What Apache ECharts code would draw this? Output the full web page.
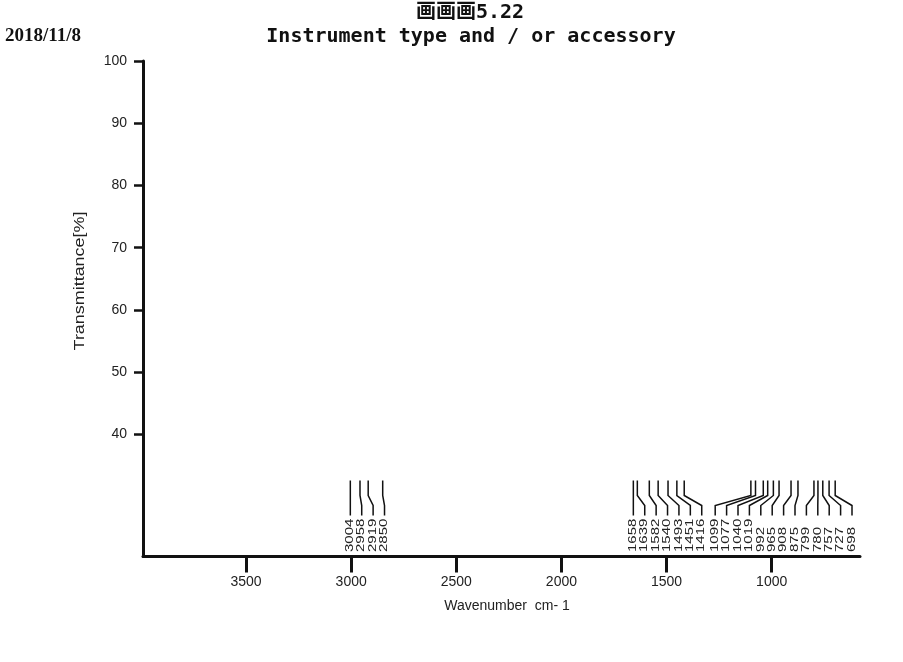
<!DOCTYPE html>
<html>
<head>
<meta charset="utf-8">
<script src="https://cdn.jsdelivr.net/npm/echarts@6/dist/echarts.min.js"></script>
<style>
html,body{margin:0;padding:0;background:#fff;}
#chart{width:903px;height:662px;}
</style>
</head>
<body>
<div id="chart"></div>
<script>
// ---- data ----
const peaks = [3004, 2958, 2919, 2850, 1658, 1639, 1582, 1540, 1493, 1451, 1416,
               1099, 1077, 1040, 1019, 992, 965, 908, 875, 799, 780, 757, 727, 698];
const xTicks = [3500, 3000, 2500, 2000, 1500, 1000];
const yTicks = [40, 50, 60, 70, 80, 90, 100];
const xMin = 580, xMax = 3990;
const yMin = 20.4, yMax = 100;
const titleLine1 = '画画画5.22';
const titleLine2 = 'Instrument type and / or accessory';
const dateText = '2018/11/8';
const xName = 'Wavenumber  cm- 1';
const yName = 'Transmittance[%]';

const chart = echarts.init(document.getElementById('chart'), null, {renderer: 'canvas'});
const LABEL_GAP = 11.4;
const RIGHT_PAD = 8;

function layoutLabels(api) {
  const px = peaks.map(p => api.coord([p, yMin])[0]);
  const rightLimit = api.coord([xMin, yMin])[0] - RIGHT_PAD;
  const order = px.map((v, k) => k).sort((a, b) => px[a] - px[b]);
  const lx = new Array(px.length);
  let prev = -Infinity;
  order.forEach(k => { const v = Math.max(px[k], prev + LABEL_GAP); lx[k] = v; prev = v; });
  let next = rightLimit + LABEL_GAP;
  for (let j = order.length - 1; j >= 0; j--) {
    const k = order[j];
    lx[k] = Math.min(lx[k], next - LABEL_GAP);
    next = lx[k];
  }
  return {px, lx};
}

function renderPeak(params, api) {
  const i = params.dataIndex;
  const {px, lx} = layoutLabels(api);
  const base = api.coord([peaks[i], yMin])[1];
  const x0 = px[i], x1 = lx[i];
  return {
    type: 'group',
    children: [
      {
        type: 'polyline',
        shape: {points: [[x0, base - 76], [x0, base - 61], [x1, base - 51], [x1, base - 41]]},
        style: {stroke: '#111', lineWidth: 1.5, fill: null}
      },
      {
        type: 'text',
        x: x1, y: base - 4.5,
        rotation: Math.PI / 2,
        scaleX: 1.5,
        style: {
          text: String(peaks[i]),
          x: 0, y: 0,
          align: 'left', verticalAlign: 'middle',
          fontSize: 10, fontFamily: 'Liberation Sans, Arial, sans-serif',
          fill: '#222'
        }
      }
    ]
  };
}

const option = {
  animation: false,
  backgroundColor: '#fff',
  grid: {left: 143, right: 43, top: 61, bottom: 105.5, containLabel: false},
  xAxis: {
    type: 'value', min: xMin, max: xMax, inverse: true,
    axisLine: {show: true, onZero: false, lineStyle: {color: '#111', width: 3}},
    axisTick: {show: true, customValues: xTicks, length: 16, lineStyle: {color: '#111', width: 3}},
    axisLabel: {show: true, customValues: xTicks, margin: 19, fontSize: 14, color: '#222',
                fontFamily: 'Liberation Sans, Arial, sans-serif', formatter: v => String(v)},
    splitLine: {show: false}
  },
  yAxis: {
    type: 'value', min: yMin, max: yMax,
    axisLine: {show: true, onZero: false, lineStyle: {color: '#111', width: 3}},
    axisTick: {show: true, customValues: yTicks, length: 9, lineStyle: {color: '#111', width: 2.5}},
    axisLabel: {show: true, customValues: yTicks, margin: 16, fontSize: 14, color: '#222',
                fontFamily: 'Liberation Sans, Arial, sans-serif', formatter: v => String(v)},
    splitLine: {show: false}
  },
  series: [{
    type: 'custom',
    data: peaks.map(p => [p, yMin]),
    encode: {x: 0, y: 1},
    renderItem: renderPeak,
    clip: false,
    silent: true
  }],
  graphic: {elements: [
    {type: 'text', x: 470, y: 13,
     style: {text: titleLine1, align: 'center', verticalAlign: 'middle',
             font: 'bold 20px "DejaVu Sans Mono", "Noto Sans CJK SC", monospace', fill: '#111'}},
    {type: 'text', x: 471, y: 37,
     style: {text: titleLine2, align: 'center', verticalAlign: 'middle',
             font: 'bold 20px "DejaVu Sans Mono", monospace', fill: '#111'}},
    {type: 'text', x: 5, y: 36,
     style: {text: dateText, align: 'left', verticalAlign: 'middle',
             font: 'bold 19px "Liberation Serif", serif', fill: '#111'}},
    {type: 'text', x: 507, y: 606,
     style: {text: xName, align: 'center', verticalAlign: 'middle',
             font: '14px "Liberation Sans", Arial, sans-serif', fill: '#222'}},
    {type: 'text', x: 80, y: 281, rotation: Math.PI / 2, scaleX: 1.28,
     style: {text: yName, x: 0, y: 0, align: 'center', verticalAlign: 'middle',
             font: '14px "Liberation Sans", Arial, sans-serif', fill: '#222'}}
  ]}
};
chart.setOption(option);
</script>
</body>
</html>
